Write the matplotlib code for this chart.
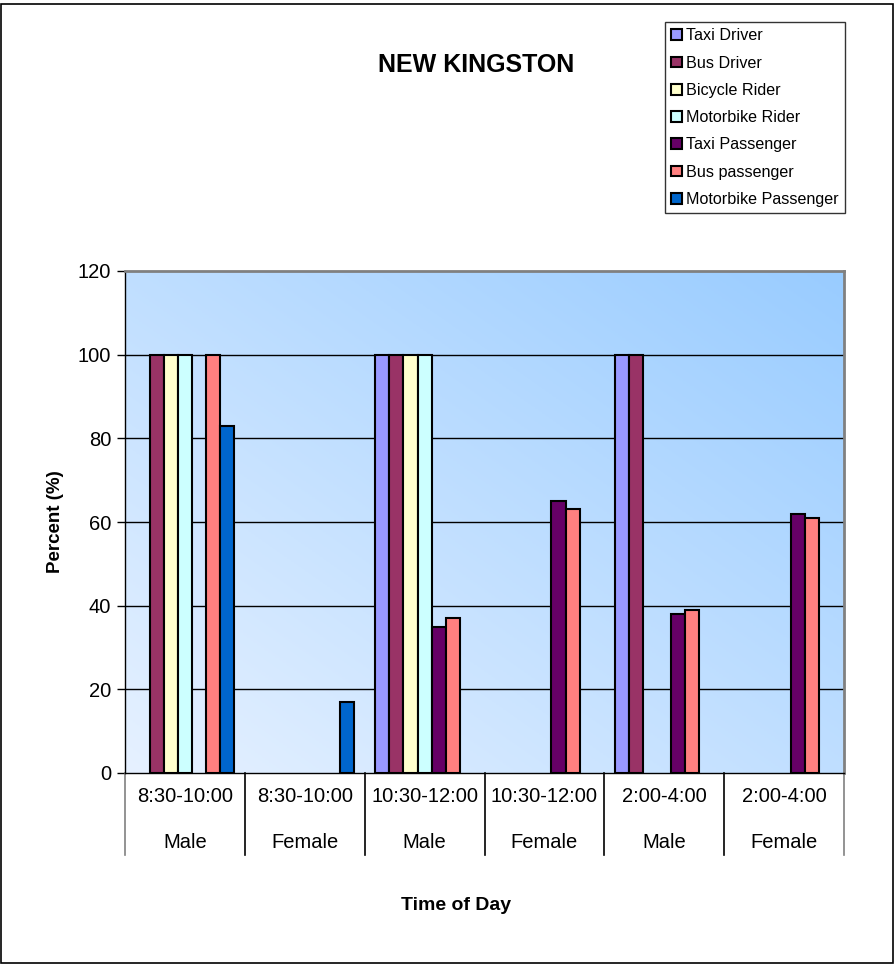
import numpy as np
import matplotlib
matplotlib.use("Agg")
import matplotlib.pyplot as plt
from matplotlib.colors import LinearSegmentedColormap
from matplotlib.patches import Rectangle

plt.rcParams['font.family'] = ['Liberation Sans', 'DejaVu Sans']

# 数据
times = ["8:30-10:00", "8:30-10:00", "10:30-12:00", "10:30-12:00", "2:00-4:00", "2:00-4:00"]
genders = ["Male", "Female", "Male", "Female", "Male", "Female"]
series = ["Taxi Driver", "Bus Driver", "Bicycle Rider", "Motorbike Rider",
          "Taxi Passenger", "Bus passenger", "Motorbike Passenger"]
taxi_driver = [0, 0, 100, 0, 100, 0]
bus_driver = [100, 0, 100, 0, 100, 0]
bicycle_rider = [100, 0, 100, 0, 0, 0]
motorbike_rider = [100, 0, 100, 0, 0, 0]
taxi_passenger = [0, 0, 35, 65, 38, 62]
bus_passenger = [100, 0, 37, 63, 39, 61]
motorbike_passenger = [83, 17, 0, 0, 0, 0]
values = [taxi_driver, bus_driver, bicycle_rider, motorbike_rider,
          taxi_passenger, bus_passenger, motorbike_passenger]
colors = ["#9999FF", "#993366", "#FFFFCC", "#CCFFFF", "#660066", "#FF8080", "#0066CC"]

fig = plt.figure(figsize=(8.94, 9.64), dpi=100)
ax = fig.add_axes([125 / 894, 1 - 773 / 964, 719 / 894, 502 / 964])

# 渐变背景
cmap = LinearSegmentedColormap.from_list("bg", ["#E6F1FF", "#99CCFF"])
xx, yy = np.meshgrid(np.linspace(0, 1, 200), np.linspace(0, 1, 200))
ax.imshow((xx + yy) / 2, cmap=cmap, extent=[0, 1, 0, 1], transform=ax.transAxes,
          origin="lower", aspect="auto", zorder=0, vmin=0, vmax=1)

n = len(times)
w = 1 / 8.5
x = np.arange(n)
for i, (name, vals, c) in enumerate(zip(series, values, colors)):
    vals = np.array(vals, dtype=float)
    keep = vals > 0  # 零值不画
    ax.bar(x[keep] + (i - 3) * w, vals[keep], width=w, color=c, edgecolor="black",
           linewidth=1.5, label=name, zorder=3)

ax.set_xlim(-0.5, n - 0.5)
ax.set_ylim(0, 120)
ax.set_yticks(range(0, 121, 20))
ax.tick_params(axis="y", labelsize=14.5, length=6, width=1, direction="out", pad=4)
ax.set_xticks([])
for yv in range(20, 101, 20):
    ax.axhline(yv, color="black", linewidth=1, zorder=1)
ax.spines["top"].set_color("#808080")
ax.spines["right"].set_color("#808080")
ax.spines["top"].set_linewidth(2)
ax.spines["right"].set_linewidth(2)
ax.spines["left"].set_linewidth(1)
ax.spines["bottom"].set_linewidth(1)

# 两级分类标签
h = ax.get_window_extent().height
for k in range(n):
    ax.text(k, -24 / h, times[k], transform=ax.get_xaxis_transform(), ha="center",
            va="center", fontsize=14.5)
    ax.text(k, -69 / h, genders[k], transform=ax.get_xaxis_transform(), ha="center",
            va="center", fontsize=14.5)
for k in range(n + 1):
    ax.plot([k - 0.5, k - 0.5], [0, -82 / h], transform=ax.get_xaxis_transform(),
            color="#808080" if k in (0, n) else "black", linewidth=1.2, clip_on=False)

ax.set_ylabel("Percent (%)", fontsize=13.5, fontweight="bold", labelpad=10)
fig.text(456 / 894, 1 - 905 / 964, "Time of Day", ha="center", va="center",
         fontsize=14, fontweight="bold")
fig.text(476 / 894, 1 - 65 / 964, "NEW KINGSTON", ha="center", va="center",
         fontsize=18, fontweight="bold")

leg = fig.legend(loc="upper right", bbox_to_anchor=(845 / 894, 1 - 22 / 964),
                 fontsize=11.6, frameon=True, fancybox=False, edgecolor="black",
                 handlelength=0.65, handleheight=0.65, handletextpad=0.25,
                 labelspacing=0.76, borderpad=0.4, borderaxespad=0)
leg.get_frame().set_linewidth(1)

fig.patches.append(Rectangle((0.001, 0.001), 0.998, 0.995, transform=fig.transFigure,
                             fill=False, edgecolor="black", linewidth=1.2))

fig.savefig("out.png", dpi=100)
